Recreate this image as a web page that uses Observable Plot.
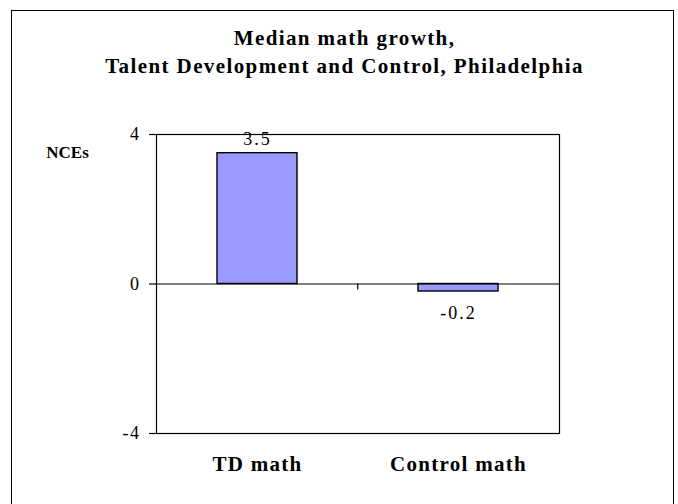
<!DOCTYPE html>
<html>
<head>
<meta charset="utf-8">
<script src="https://cdn.jsdelivr.net/npm/d3@7"></script>
<script src="https://cdn.jsdelivr.net/npm/@observablehq/plot@0.6"></script>
<style>
  html, body { margin: 0; padding: 0; background: #fff; }
  #wrap { position: relative; width: 678px; height: 504px; overflow: hidden; }
  #border { position: absolute; left: 11px; top: 10px; width: 663px; height: 520px;
            border: 1.5px solid #000; box-sizing: border-box; pointer-events: none; }
  #chart svg { display: block; }
  #chart svg text { font-family: 'Liberation Serif', 'Times New Roman', serif !important; }
</style>
</head>
<body>
<div id="wrap">
  <div id="chart"></div>
  <div id="border"></div>
</div>
<script>
const categories = ["TD math", "Control math"];
const values = [3.5, -0.2];
const valueLabels = ["3.5", "-0.2"];
const yTicks = [-4, 0, 4];
const yTickLabels = ["-4", "0", "4"];
const titleLines = ["Median math growth,", "Talent Development and Control, Philadelphia"];
const yAxisTitle = "NCEs";

const data = categories.map((c, i) => ({category: c, value: values[i], label: valueLabels[i]}));

const W = 678, H = 504;
const mL = 156, mR = 119, mT = 134, mB = 71;
const step = (W - mL - mR) / categories.length;
const serif = "'Liberation Serif', 'Times New Roman', serif";

const plot = Plot.plot({
  width: W,
  height: H,
  marginLeft: mL,
  marginRight: mR,
  marginTop: mT,
  marginBottom: mB,
  style: {fontFamily: serif, background: "white", color: "black", overflow: "visible"},
  x: {domain: categories, paddingInner: 0.6, paddingOuter: 0.3},
  y: {domain: [-4, 4]},
  marks: [
    Plot.frame({stroke: "black", strokeWidth: 1.2}),
    Plot.barY(data, {x: "category", y: "value", fill: "#9999ff", stroke: "black", strokeWidth: 1.4}),
    Plot.ruleY([0], {stroke: "black", strokeWidth: 1.2}),
    Plot.ruleX([categories[1]], {x: d => d, y1: 0, y2: -0.16, dx: -step / 2, stroke: "black", strokeWidth: 1.2}),
    Plot.axisY({
      ticks: yTicks,
      tickFormat: (d) => yTickLabels[yTicks.indexOf(d)],
      tickSize: 7,
      tickPadding: 9,
      fontSize: 18,
      label: null,
      stroke: "black",
      strokeWidth: 1.2
    }),
    Plot.axisX({
      tickSize: 0,
      tickPadding: 23,
      fontSize: 21,
      fontWeight: "bold",
      label: null
    }),
    Plot.text(data.filter(d => d.value >= 0), {
      x: "category", y: "value", text: "label",
      lineAnchor: "bottom", dy: -8, fontSize: 18, fill: "black"
    }),
    Plot.text(data.filter(d => d.value < 0), {
      x: "category", y: "value", text: "label",
      lineAnchor: "top", dy: 15, fontSize: 18, fill: "black"
    }),
    Plot.text([titleLines.join("\n")], {
      frameAnchor: "top", lineAnchor: "bottom", dy: -62, dx: -13.5,
      lineHeight: 1.3, fontSize: 21, fontWeight: "bold", fill: "black"
    }),
    Plot.text([yAxisTitle], {
      frameAnchor: "top-left", textAnchor: "middle", lineAnchor: "bottom",
      dx: -89, dy: 23, fontSize: 17, fontWeight: "bold", fill: "black"
    })
  ]
});

document.getElementById("chart").appendChild(plot);

const svg = d3.select(plot);
svg.selectAll("g[aria-label='x-axis tick label'] text").style("letter-spacing", "1.3px");
svg.selectAll("g[aria-label='y-axis tick label'] text").style("letter-spacing", "1.5px");
svg.selectAll("g[aria-label='text'] text").each(function () {
  const t = this.textContent;
  if (t === yAxisTitle) d3.select(this).style("letter-spacing", "0px");
  else if (valueLabels.includes(t)) d3.select(this).style("letter-spacing", "2px");
  else d3.select(this).style("letter-spacing", "1.4px");
});
</script>
</body>
</html>
